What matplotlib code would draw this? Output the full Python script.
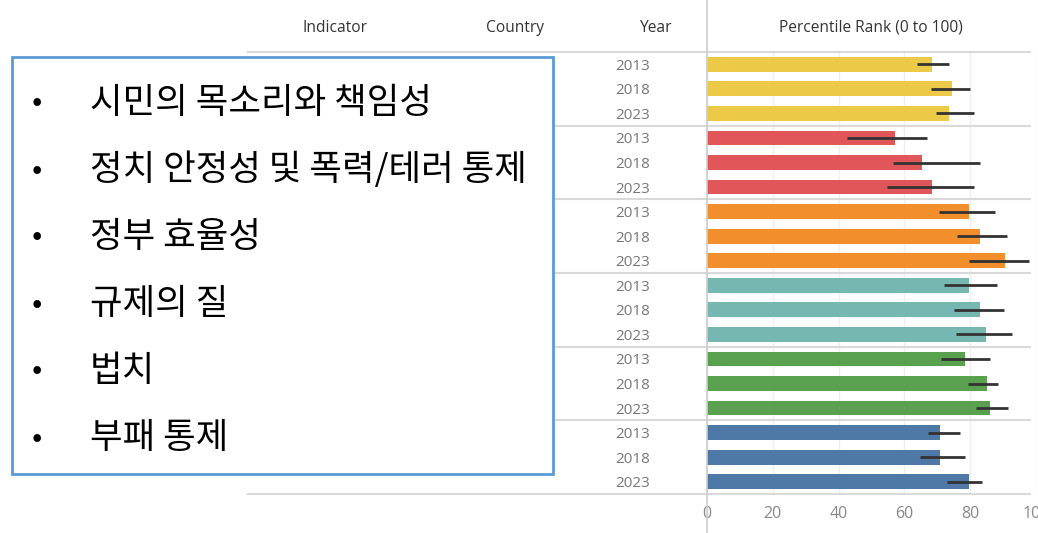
import matplotlib
matplotlib.use("Agg")
import matplotlib.pyplot as plt
from matplotlib.lines import Line2D
from matplotlib.patches import Rectangle
from matplotlib.transforms import blended_transform_factory

# data
years = ["2013", "2018", "2023"]
indicators = ["시민의 목소리와 책임성", "정치 안정성 및 폭력/테러 통제", "정부 효율성",
              "규제의 질", "법치", "부패 통제"]
colors = ["#EDC948", "#E15759", "#F28E2B", "#76B7B2", "#59A14F", "#4E79A7"]
rank = [68.3, 74.4, 73.6,
        57.1, 65.3, 68.3,
        79.5, 82.9, 90.7,
        79.5, 82.9, 84.8,
        78.4, 85.2, 85.9,
        70.9, 70.9, 79.5]
low = [63.8, 68.0, 69.5,
       42.6, 56.4, 54.6,
       70.6, 75.9, 79.6,
       72.1, 75.2, 75.6,
       71.0, 79.2, 81.9,
       67.3, 64.6, 72.8]
high = [73.6, 79.9, 81.1,
        66.9, 82.9, 81.1,
        87.4, 91.1, 97.9,
        88.1, 90.4, 92.6,
        85.9, 88.5, 91.6,
        77.0, 78.4, 83.7]
ticks = [0, 20, 40, 60, 80, 100]

W, H = 1038, 533
fig = plt.figure(figsize=(W / 100, H / 100), dpi=100)
fig.patch.set_facecolor("white")

# bar area in pixels: x 707..1036, y 52..494
ax = fig.add_axes([707 / W, (H - 494) / H, (1036 - 707) / W, (494 - 52) / H])
n = len(rank)
rows = list(range(n))
bar_colors = [colors[i // 3] for i in rows]
ax.barh(rows, rank, height=0.6, color=bar_colors, zorder=3)
ax.hlines(rows, low, high, color="#333333", lw=2, zorder=4)
ax.set_xlim(0, 100)
ax.set_ylim(n - 0.5, -0.5)
ax.set_yticks([])
ax.set_xticks(ticks)
ax.tick_params(axis="x", length=0, labelsize=11.5, labelcolor="#888888", pad=9)
for t in ax.get_xticklabels():
    t.set_fontfamily("Open Sans")
for s in ax.spines.values():
    s.set_visible(False)
ax.grid(axis="x", color="#efefef", lw=1, zorder=0)

# year labels
ytr = ax.get_yaxis_transform()
for i in rows:
    ax.text(-0.225, i + 0.08, years[i % 3], transform=ytr, ha="center", va="center",
            fontsize=11, color="#777777", family="Open Sans", clip_on=False)

# separator lines across table
ftr = blended_transform_factory(fig.transFigure, ax.transData)
for g in range(len(indicators) + 1):
    fig.add_artist(Line2D([248 / W, 1030 / W], [g * 3 - 0.5, g * 3 - 0.5],
                          transform=ftr, color="#d9d9d9", lw=1.5))

# vertical line at axis start
fig.add_artist(Line2D([707 / W, 707 / W], [0, 1], transform=fig.transFigure,
                      color="#cccccc", lw=1.2))

# headers
htr = fig.transFigure
hy = 1 - 28 / H
for label, x in [("Indicator", 335), ("Country", 515), ("Year", 656),
                 ("Percentile Rank (0 to 100)", 871)]:
    fig.text(x / W, hy, label, ha="center", va="center", fontsize=11.2,
             color="#333333", family="Open Sans")

# overlay box with indicator list
fig.add_artist(Rectangle((12 / W, 1 - 474 / H), (553 - 12) / W, (474 - 57) / H,
                         transform=htr, facecolor="white", edgecolor="#5B9BD5",
                         lw=2, zorder=5))
for k, name in enumerate(indicators):
    y = 1 - (103 + 67 * k) / H
    fig.text(37 / W, y, "•", ha="center", va="center", fontsize=22,
             color="black", family=["Noto Sans CJK KR", "DejaVu Sans"], zorder=6)
    fig.text(90 / W, y, name, ha="left", va="center", fontsize=25.5,
             color="black", family=["Noto Sans CJK KR", "DejaVu Sans"], zorder=6)

fig.savefig("out.png", dpi=100)
